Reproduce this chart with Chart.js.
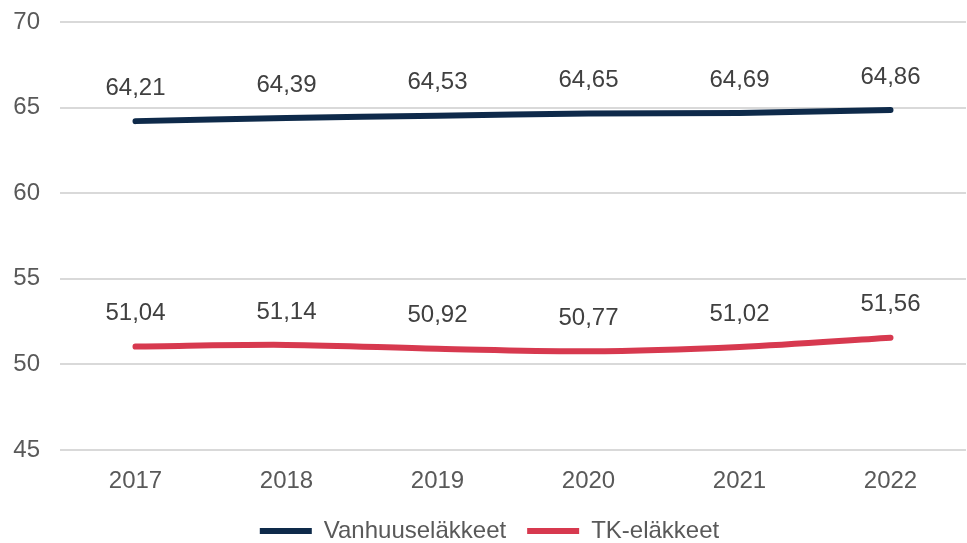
<!DOCTYPE html>
<html>
<head>
<meta charset="utf-8">
<script src="https://cdn.jsdelivr.net/npm/chart.js@4"></script>
<style>
html,body{margin:0;padding:0;background:#fff;}
#wrap{width:967px;height:543px;position:relative;}
</style>
</head>
<body>
<div id="wrap"><canvas id="c" width="967" height="543"></canvas></div>
<script>
const years = ['2017', '2018', '2019', '2020', '2021', '2022'];
const vanhuus = [64.21, 64.39, 64.53, 64.65, 64.69, 64.86];
const tk = [51.04, 51.14, 50.92, 50.77, 51.02, 51.56];
const seriesNames = ['Vanhuuseläkkeet', 'TK-eläkkeet'];
const yTicks = [45, 50, 55, 60, 65, 70];

const FONT = '"Liberation Sans", Arial, sans-serif';
const TEXT = '#595959';

const labelPlugin = {
  id: 'valueLabels',
  afterDatasetsDraw(chart) {
    const ctx = chart.ctx;
    ctx.save();
    ctx.font = '24px ' + FONT;
    ctx.fillStyle = '#404040';
    ctx.textAlign = 'center';
    ctx.textBaseline = 'middle';
    chart.data.datasets.forEach((ds, i) => {
      const meta = chart.getDatasetMeta(i);
      meta.data.forEach((pt, j) => {
        const txt = ds.data[j].toFixed(2).replace('.', ',');
        ctx.fillText(txt, pt.x, pt.y - 33);
      });
    });
    ctx.restore();
  }
};

new Chart(document.getElementById('c'), {
  type: 'line',
  data: {
    labels: years,
    datasets: [
      {
        label: seriesNames[0],
        data: vanhuus,
        borderColor: '#0e2a4a',
        backgroundColor: '#0e2a4a',
        borderWidth: 6,
        borderCapStyle: 'round',
        pointRadius: 0,
        pointHoverRadius: 0,
        tension: 0.35,
        pointStyle: 'line'
      },
      {
        label: seriesNames[1],
        data: tk,
        borderColor: '#d7394f',
        backgroundColor: '#d7394f',
        borderWidth: 6,
        borderCapStyle: 'round',
        pointRadius: 0,
        pointHoverRadius: 0,
        tension: 0.35,
        pointStyle: 'line'
      }
    ]
  },
  options: {
    responsive: false,
    animation: false,
    devicePixelRatio: 1,
    layout: { padding: { left: 13, right: 1, top: 22, bottom: -10 } },
    scales: {
      x: {
        offset: true,
        afterFit(scale) { scale.height = 48; },
        grid: { display: false, drawTicks: false },
        border: { display: false },
        ticks: { color: TEXT, font: { family: FONT, size: 24 }, padding: 17 }
      },
      y: {
        min: 45,
        max: 70,
        afterBuildTicks(scale) { scale.ticks = yTicks.map(v => ({ value: v })); },
        afterFit(scale) { scale.width = 47; scale.paddingTop = 0; scale.paddingBottom = 0; },
        grid: { color: '#d9d9d9', lineWidth: 2, drawTicks: false },
        border: { display: false },
        ticks: { color: TEXT, font: { family: FONT, size: 24 }, padding: 20 }
      }
    },
    plugins: {
      legend: {
        position: 'bottom',
        labels: {
          usePointStyle: true,
          pointStyleWidth: 52,
          boxHeight: 24,
          color: TEXT,
          font: { family: FONT, size: 24 },
          padding: 21
        }
      },
      tooltip: { enabled: false }
    }
  },
  plugins: [labelPlugin]
});
</script>
</body>
</html>
